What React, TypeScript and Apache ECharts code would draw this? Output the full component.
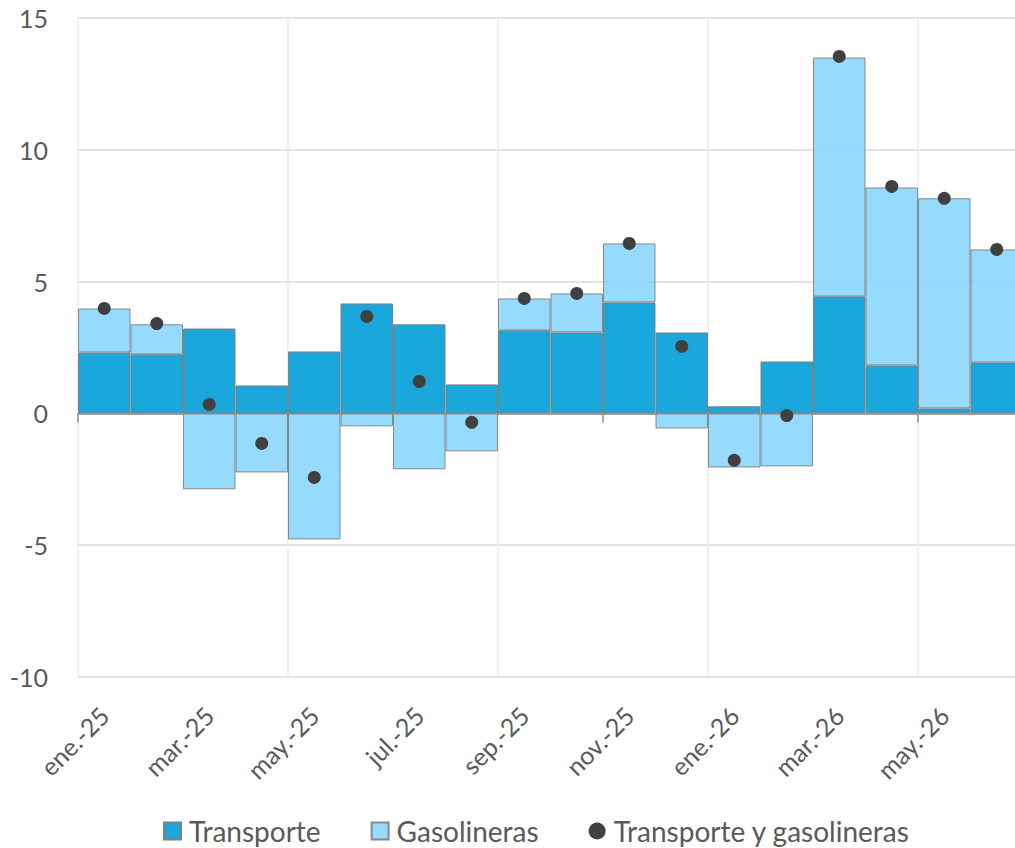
import React, { useEffect, useRef } from "react";
import * as echarts from "echarts";

const categories = ["ene.-25","feb.-25","mar.-25","abr.-25","may.-25","jun.-25","jul.-25","ago.-25","sep.-25","oct.-25","nov.-25","dic.-25","ene.-26","feb.-26","mar.-26","abr.-26","may.-26","jun.-26"];
const transporte = [2.31,2.24,3.22,1.06,2.35,4.17,3.38,1.10,3.15,3.07,4.21,3.07,0.27,1.97,4.44,1.82,0.19,1.93];
const gasolineras = [1.67,1.14,-2.88,-2.24,-4.78,-0.49,-2.12,-1.44,1.21,1.48,2.24,-0.57,-2.05,-2.01,9.06,6.75,7.97,4.29];
const total = [3.98,3.41,0.34,-1.14,-2.43,3.68,1.21,-0.34,4.36,4.55,6.45,2.54,-1.78,-0.08,13.54,8.61,8.16,6.22];
const yTicks = { min: -10, max: 15, interval: 5 };

const FONT = "Lato";
const TEXT = "#595959";

export default function App() {
  const ref = useRef<HTMLDivElement>(null);
  useEffect(() => {
    document.body.style.margin = "0";
    document.body.style.overflow = "hidden";
    const chart = echarts.init(ref.current!, null, { renderer: "svg" });
    chart.setOption({
      animation: false,
      backgroundColor: "#ffffff",
      textStyle: { fontFamily: FONT },
      grid: { left: 78, top: 18, right: 0, bottom: 171, containLabel: false },
      legend: {
        left: 158,
        top: 812,
        itemWidth: 17,
        itemHeight: 17,
        itemGap: 50,
        textStyle: { fontFamily: FONT, fontSize: 28, color: TEXT, padding: [0, 0, 0, 3] },
        data: [
          { name: "Transporte", icon: "rect" },
          { name: "Gasolineras", icon: "rect" },
          { name: "Transporte y gasolineras", icon: "circle" },
        ],
      },
      xAxis: [
        {
          type: "category",
          data: categories,
          position: "bottom",
          boundaryGap: true,
          axisLine: { show: false, onZero: false },
          axisTick: { show: false },
          axisLabel: {
            interval: (i: number) => i % 2 === 0,
            rotate: 45,
            margin: 34,
            fontFamily: FONT,
            fontSize: 25,
            color: TEXT,
          },
          splitLine: {
            show: true,
            interval: (i: number) => i % 4 === 0,
            lineStyle: { color: "#ececec", width: 1.5 },
          },
        },
        {
          type: "category",
          data: categories,
          position: "top",
          boundaryGap: true,
          axisLine: { show: true, onZero: true, lineStyle: { color: "#8c8c8c", width: 1.5 } },
          axisTick: {
            show: true,
            inside: true,
            length: 9,
            interval: (i: number) => i === 0 || i === 10 || i === 16,
            lineStyle: { color: "#8c8c8c", width: 1.5 },
          },
          axisLabel: { show: false },
          splitLine: { show: false },
        },
      ],
      yAxis: {
        type: "value",
        min: yTicks.min,
        max: yTicks.max,
        interval: yTicks.interval,
        axisLine: { show: false },
        axisTick: { show: false },
        axisLabel: { margin: 30, fontFamily: FONT, fontSize: 25, color: TEXT },
        splitLine: { show: true, lineStyle: { color: "#d9d9d9", width: 1.5 } },
      },
      series: [
        {
          name: "Transporte",
          type: "bar",
          stack: "s",
          xAxisIndex: 0,
          data: transporte,
          barCategoryGap: "0%",
          itemStyle: { color: "#1aa7db", borderColor: "#808080", borderWidth: 1 },
        },
        {
          name: "Gasolineras",
          type: "bar",
          stack: "s",
          xAxisIndex: 0,
          data: gasolineras,
          barCategoryGap: "0%",
          itemStyle: { color: "#8bd6fd", opacity: 0.9, borderColor: "#808080", borderWidth: 1 },
        },
        {
          name: "Transporte y gasolineras",
          type: "scatter",
          xAxisIndex: 0,
          data: total,
          symbol: "circle",
          symbolSize: 13,
          itemStyle: { color: "#404040", opacity: 1 },
          z: 5,
        },
      ],
    });
    return () => chart.dispose();
  }, []);
  return <div ref={ref} style={{ width: 1023, height: 848 }} />;
}
